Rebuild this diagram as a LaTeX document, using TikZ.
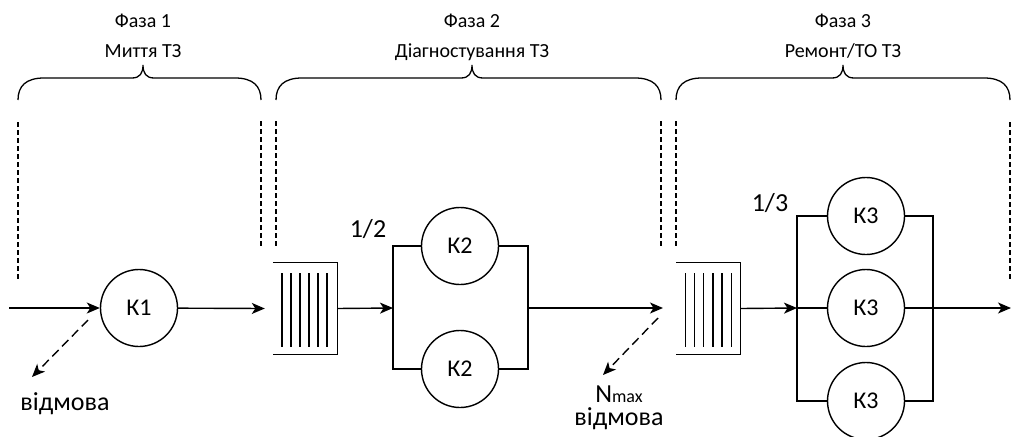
\documentclass[tikz,border=0pt]{standalone}
\usepackage{fontspec}
\setmainfont{Carlito}
\usetikzlibrary{arrows.meta}
\newcommand{\phasebrace}[3]{% left x, right x, top x
  \draw[brace] (#1,100) .. controls (#1,86) and (#1+8,78) .. (#1+26,78)
    -- (#3-11,78) .. controls (#3-3,78) and (#3,73) .. (#3,65)
    .. controls (#3,73) and (#3+3,78) .. (#3+11,78)
    -- (#2-26,78) .. controls (#2-8,78) and (#2,86) .. (#2,100);}
\newcommand{\queuebox}[3]{% name, centre x, line spacing
  \node[queue] (#1) at (#2,308.5) {};
  \draw[wire] (#1.north west) -- (#1.north east) -- (#1.south east) -- (#1.south west);
  \foreach \i in {0,...,5}
    \draw[wire] ([xshift=9pt+\i*#3pt, yshift=-11pt]#1.north west) -- ([xshift=9pt+\i*#3pt, yshift=8pt]#1.south west);}

\begin{document}
\begin{tikzpicture}[
  x=1pt, y=-1pt,
  font=\fontsize{24}{28}\selectfont,
  wire/.style={line width=1.4pt},
  brace/.style={line width=1.3pt},
  flow/.style={wire, -{Stealth[length=13pt, width=11pt, inset=3.5pt]}},
  fail/.style={flow, dash pattern=on 9pt off 5pt},
  border/.style={line width=1.3pt, dash pattern=on 5pt off 3pt},
  chan/.style={circle, draw, line width=1.4pt, minimum size=77pt, inner sep=0pt},
  queue/.style={minimum width=64pt, minimum height=92pt, inner sep=0pt},
  head/.style={font=\fontsize{20}{24}\selectfont, anchor=base},
  lbl/.style={font=\fontsize{26}{23}\selectfont, anchor=base}
]
  \useasboundingbox (0,0) rectangle (1011,436);

  % phases
  \node[head] (f1) at (143,28) {Фаза 1};
  \node[head] (f1b) at (143,57) {Миття ТЗ};
  \node[head] (f2) at (472,28) {Фаза 2};
  \node[head] (f2b) at (472,57) {Діагностування ТЗ};
  \node[head] (f3) at (843,28) {Фаза 3};
  \node[head] (f3b) at (843,57) {Ремонт/ТО ТЗ};
  \phasebrace{18}{261}{143}
  \phasebrace{276}{661}{472}
  \phasebrace{676}{1010}{843}

  \draw[border] (18,122) -- (18,281);
  \draw[border] (261,121) -- (261,247);
  \draw[border] (276,121) -- (276,247);
  \draw[border] (661,121) -- (661,247);
  \draw[border] (676,121) -- (676,247);
  \draw[border] (1010,122) -- (1010,280);

  % channels and queues
  \node[chan] (k1) at (139,308) {К1};
  \queuebox{q1}{305}{9}
  \node[chan] (k2a) at (460,246) {К2};
  \node[chan] (k2b) at (460,369) {К2};
  \queuebox{q2}{708.5}{9.2}
  \node[chan] (k3a) at (866,216) {К3};
  \node[chan] (k3b) at (866,308) {К3};
  \node[chan] (k3c) at (866,401) {К3};

  \coordinate (in) at (9,308);
  \coordinate (s2) at (393,308);
  \coordinate (j2) at (528,308);
  \coordinate (q2in) at (663,308);
  \coordinate (s3) at (797,308);
  \coordinate (j3) at (933,308);
  \coordinate (out) at (1011,308);

  \draw[flow] (in) -- (k1);
  \draw[flow] (k1) -- ([xshift=-8pt]q1.west);
  \draw[flow] (q1.east) -- (s2);
  \draw[wire] (k2a.west) -| (s2) |- (k2b.west);
  \draw[wire] (k2a.east) -| (j2) |- (k2b.east);
  \draw[flow] (j2) -- (q2in);
  \draw[flow] (q2.east) -- (s3);
  \draw[wire] (k3a.west) -| (s3) |- (k3c.west);
  \draw[wire] (s3) -- (k3b.west);
  \draw[wire] (k3a.east) -| (j3) |- (k3c.east);
  \draw[flow] (k3b.east) -- (out);

  % refusals
  \coordinate (r1) at (88,320);
  \coordinate (r1e) at (32,377);
  \coordinate (r2) at (658,318);
  \coordinate (r2e) at (603,375);
  \node[lbl] (v1) at (65,410) {відмова};
  \node[lbl, anchor=center, align=center, inner sep=0pt] (v2) at (619,408)
       {N{\fontsize{18}{20}\selectfont max}\\відмова};
  \draw[fail] (r1) -- (r1e);
  \draw[fail] (r2) -- (r2e);

  \node[lbl] (p2) at (368,237) {1/2};
  \node[lbl] (p3) at (770,211) {1/3};
\end{tikzpicture}
\end{document}
